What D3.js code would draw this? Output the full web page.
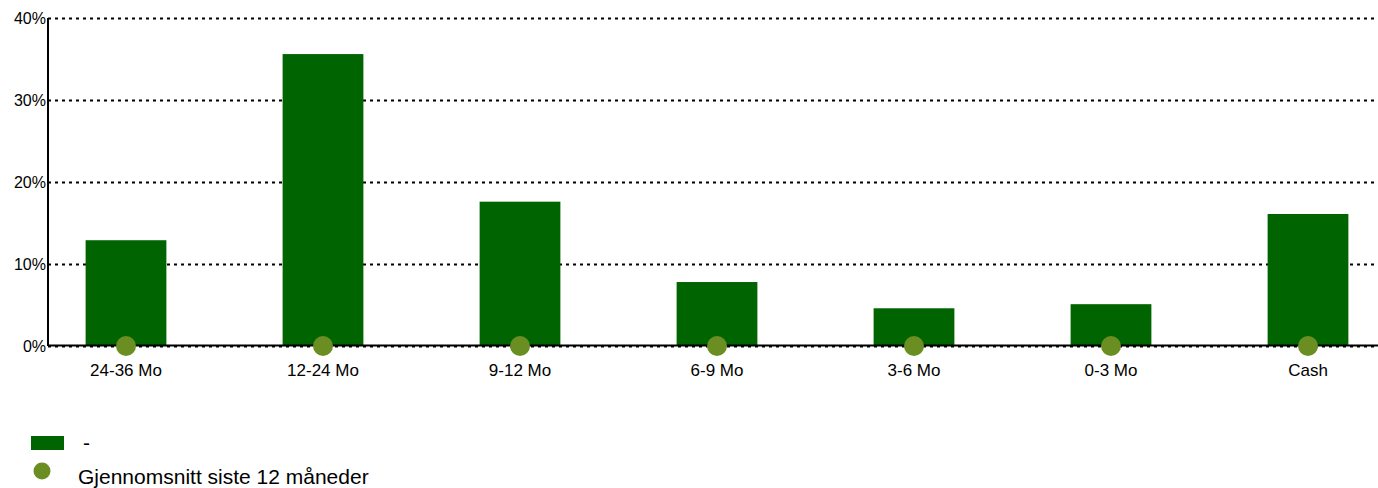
<!DOCTYPE html>
<html lang="no">
<head>
<meta charset="utf-8">
<title>Løpetid</title>
<script src="https://cdn.jsdelivr.net/npm/d3@7"></script>
<style>
  body { margin: 0; background: #fff; }
  svg text { font-family: Arial, "Liberation Sans", sans-serif; fill: #000; }
  .grid line { stroke: #000; stroke-width: 2; stroke-dasharray: 3,4; }
  .grid path { stroke-width: 0; }
</style>
</head>
<body>
<script>
var categories = ["24-36 Mo", "12-24 Mo", "9-12 Mo", "6-9 Mo", "3-6 Mo", "0-3 Mo", "Cash"];
var shares = [12.9, 35.6, 17.6, 7.8, 4.6, 5.1, 16.1];
var averages = [0, 0, 0, 0, 0, 0, 0];
var yTicks = [0, 10, 20, 30, 40];
var legendLabels = ["-", "Gjennomsnitt siste 12 måneder"];

var w = 1378, h = 488;
var padLeft = 48, padTop = 18, padBottom = 346;

var svg = d3.select("body").append("svg")
  .attr("width", w)
  .attr("height", h);

var x = d3.scaleBand()
  .domain(categories)
  .range([27.5, 1406.5])
  .paddingInner(0.59)
  .paddingOuter(0.295);

var y = d3.scaleLinear()
  .domain([0, 40])
  .range([padBottom, padTop]);

// gridlines
svg.append("g")
  .attr("class", "grid")
  .attr("transform", "translate(" + padLeft + ",0)")
  .call(d3.axisLeft(y).tickValues(yTicks).tickSize(-(w - padLeft)).tickFormat(""));

// y labels
svg.append("g")
  .selectAll("text")
  .data(yTicks)
  .enter().append("text")
  .attr("x", padLeft - 2)
  .attr("y", function (d) { return y(d); })
  .attr("dy", "0.35em")
  .attr("text-anchor", "end")
  .style("font-size", "16px")
  .text(function (d) { return d + "%"; });

// bars
svg.append("g")
  .selectAll("rect")
  .data(shares)
  .enter().append("rect")
  .attr("x", function (d, i) { return x(categories[i]); })
  .attr("y", function (d) { return y(d); })
  .attr("width", x.bandwidth())
  .attr("height", function (d) { return y(0) - y(d); })
  .attr("fill", "#006400");

// axes lines
svg.append("line")
  .attr("x1", padLeft).attr("x2", w)
  .attr("y1", y(0) - 0.5).attr("y2", y(0) - 0.5)
  .attr("stroke", "#000").attr("stroke-width", 2);
svg.append("line")
  .attr("x1", padLeft).attr("x2", padLeft)
  .attr("y1", padTop).attr("y2", y(0))
  .attr("stroke", "#000").attr("stroke-width", 2);

// average dots
svg.append("g")
  .selectAll("circle")
  .data(averages)
  .enter().append("circle")
  .attr("cx", function (d, i) { return x(categories[i]) + x.bandwidth() / 2; })
  .attr("cy", function (d) { return y(d); })
  .attr("r", 10)
  .attr("fill", "#6b8e23");

// x labels
svg.append("g")
  .selectAll("text")
  .data(categories)
  .enter().append("text")
  .attr("x", function (d) { return x(d) + x.bandwidth() / 2; })
  .attr("y", 376)
  .attr("text-anchor", "middle")
  .style("font-size", "17px")
  .text(function (d) { return d; });

// legend
var legend = svg.append("g");
legend.append("rect")
  .attr("x", 31).attr("y", 436)
  .attr("width", 33).attr("height", 14)
  .attr("fill", "#006400");
legend.append("text")
  .attr("x", 83).attr("y", 450)
  .style("font-size", "21px")
  .text(legendLabels[0]);
legend.append("circle")
  .attr("cx", 42).attr("cy", 471)
  .attr("r", 8.5)
  .attr("fill", "#6b8e23");
legend.append("text")
  .attr("x", 78).attr("y", 484)
  .style("font-size", "21px")
  .text(legendLabels[1]);
</script>
</body>
</html>
